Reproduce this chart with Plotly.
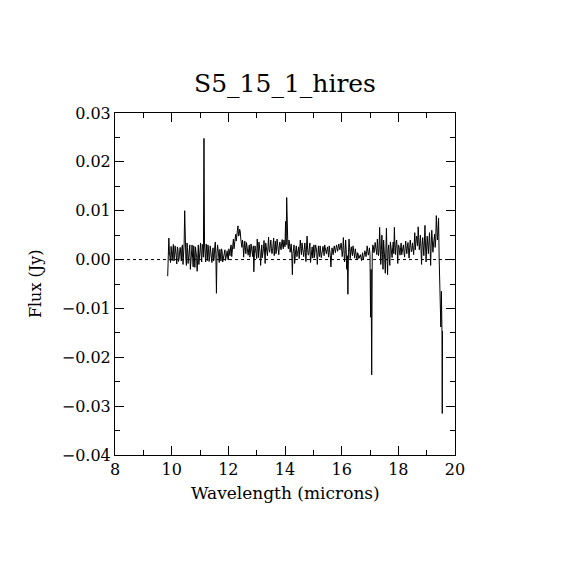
import plotly.graph_objects as go

# spectrum (wavelength in microns, flux in Jy)
wave = [
    9.86, 9.90, 9.94, 9.98, 10.02, 10.06, 10.10, 10.14, 10.18, 10.22,
    10.26, 10.30, 10.34, 10.38, 10.42, 10.46, 10.50, 10.54, 10.58, 10.62,
    10.66, 10.70, 10.74, 10.78, 10.82, 10.86, 10.90, 10.94, 10.98, 11.02,
    11.06, 11.10, 11.14, 11.18, 11.22, 11.26, 11.30, 11.34, 11.38, 11.42,
    11.46, 11.50, 11.54, 11.58, 11.62, 11.66, 11.70, 11.74, 11.78, 11.82,
    11.86, 11.90, 11.94, 11.98, 12.02, 12.06, 12.10, 12.14, 12.18, 12.22,
    12.26, 12.30, 12.34, 12.38, 12.42, 12.46, 12.50, 12.54, 12.58, 12.62,
    12.66, 12.70, 12.74, 12.78, 12.82, 12.86, 12.90, 12.94, 12.98, 13.02,
    13.06, 13.10, 13.14, 13.18, 13.22, 13.26, 13.30, 13.34, 13.38, 13.42,
    13.46, 13.50, 13.54, 13.58, 13.62, 13.66, 13.70, 13.74, 13.78, 13.82,
    13.86, 13.90, 13.94, 13.98, 14.02, 14.06, 14.10, 14.14, 14.18, 14.22,
    14.26, 14.30, 14.34, 14.38, 14.42, 14.46, 14.50, 14.54, 14.58, 14.62,
    14.66, 14.70, 14.74, 14.78, 14.82, 14.86, 14.90, 14.94, 14.98, 15.02,
    15.06, 15.10, 15.14, 15.18, 15.22, 15.26, 15.30, 15.34, 15.38, 15.42,
    15.46, 15.50, 15.54, 15.58, 15.62, 15.66, 15.70, 15.74, 15.78, 15.82,
    15.86, 15.90, 15.94, 15.98, 16.02, 16.06, 16.10, 16.14, 16.18, 16.22,
    16.26, 16.30, 16.34, 16.38, 16.42, 16.46, 16.50, 16.54, 16.58, 16.62,
    16.66, 16.70, 16.74, 16.78, 16.82, 16.86, 16.90, 16.94, 16.98, 17.02,
    17.06, 17.10, 17.14, 17.18, 17.22, 17.26, 17.30, 17.34, 17.38, 17.42,
    17.46, 17.50, 17.54, 17.58, 17.62, 17.66, 17.70, 17.74, 17.78, 17.82,
    17.86, 17.90, 17.94, 17.98, 18.02, 18.06, 18.10, 18.14, 18.18, 18.22,
    18.26, 18.30, 18.34, 18.38, 18.42, 18.46, 18.50, 18.54, 18.58, 18.62,
    18.66, 18.70, 18.74, 18.78, 18.82, 18.86, 18.90, 18.94, 18.98, 19.02,
    19.06, 19.10, 19.14, 19.18, 19.22, 19.26, 19.30, 19.34, 19.38, 19.42,
    19.44, 19.46, 19.48, 19.50, 19.52, 19.54, 19.55, 19.56,
]
flux = [
    -0.0034, 0.0044, 0.0003, 0.0027, -0.0002, 0.0031, 0.0004, 0.0020, -0.0009, 0.0022,
    0.0001, 0.0025, -0.0003, 0.0030, 0.0006, 0.0100, 0.0003, 0.0034, -0.0008, 0.0021,
    -0.0020, 0.0018, 0.0002, 0.0028, -0.0016, 0.0015, -0.0024, 0.0030, 0.0001, 0.0034,
    -0.0005, 0.0026, 0.0248, 0.0008, 0.0032, -0.0002, 0.0022, 0.0004, 0.0019, -0.0006,
    0.0024, 0.0002, 0.0036, -0.0069, 0.0030, 0.0005, 0.0021, -0.0003, 0.0018, 0.0001,
    0.0016, -0.0002, 0.0014, 0.0003, 0.0022, 0.0008, 0.0030, 0.0015, 0.0042, 0.0030,
    0.0052, 0.0045, 0.0069, 0.0050, 0.0058, 0.0034, 0.0040, 0.0005, 0.0038, 0.0012,
    0.0027, 0.0009, 0.0030, 0.0013, 0.0024, 0.0006, -0.0025, 0.0028, 0.0010, 0.0042,
    0.0004, 0.0027, -0.0012, 0.0030, 0.0012, 0.0039, -0.0008, 0.0025, 0.0008, 0.0046,
    0.0015, 0.0040, 0.0012, 0.0033, 0.0008, 0.0038, 0.0018, 0.0030, 0.0010, 0.0036,
    0.0020, 0.0041, 0.0022, 0.0035, 0.0078, 0.0127, 0.0030, 0.0040, 0.0015, 0.0032,
    -0.0031, 0.0025, -0.0008, 0.0020, 0.0006, 0.0018, 0.0002, 0.0040, 0.0010, 0.0024,
    0.0006, 0.0034, -0.0004, 0.0048, 0.0009, 0.0026, -0.0006, 0.0018, 0.0003, 0.0030,
    0.0012, 0.0024, -0.0010, 0.0028, 0.0006, 0.0020, 0.0011, 0.0027, 0.0008, 0.0022,
    0.0012, 0.0026, 0.0005, 0.0021, -0.0015, 0.0024, 0.0010, 0.0028, 0.0014, 0.0030,
    0.0017, 0.0032, 0.0020, 0.0034, 0.0006, 0.0045, -0.0005, 0.0040, -0.0020, -0.0071,
    0.0042, 0.0002, 0.0026, 0.0008, 0.0021, 0.0003, 0.0015, -0.0001, 0.0012, 0.0003,
    0.0010, -0.0002, 0.0014, 0.0004, 0.0018, 0.0006, 0.0028, 0.0009, 0.0024, -0.0118,
    -0.0236, 0.0030, 0.0014, 0.0035, 0.0019, 0.0042, 0.0008, 0.0066, -0.0010, 0.0050,
    -0.0020, 0.0025, -0.0028, 0.0064, -0.0031, 0.0030, -0.0012, 0.0022, 0.0004, 0.0036,
    0.0066, 0.0010, 0.0040, -0.0008, 0.0028, 0.0009, 0.0034, 0.0015, 0.0030, 0.0005,
    0.0038, 0.0012, 0.0035, 0.0003, 0.0040, 0.0016, 0.0034, 0.0010, 0.0055, 0.0030,
    0.0042, 0.0067, 0.0020, 0.0050, -0.0010, 0.0045, 0.0008, 0.0070, -0.0005, 0.0048,
    0.0012, 0.0055, -0.0012, 0.0060, 0.0015, 0.0045, 0.0025, 0.0090, 0.0040, 0.0085,
    0.0005, -0.0069, -0.0063, -0.0138, -0.0065, -0.0150, -0.0315, -0.0146,
]

# in-between samples, also
wave_mid = [
    9.88, 9.92, 9.96, 10.00, 10.04, 10.08, 10.12, 10.16, 10.20, 10.24,
    10.28, 10.32, 10.36, 10.40, 10.44, 10.48, 10.52, 10.56, 10.60, 10.64,
    10.68, 10.72, 10.76, 10.80, 10.84, 10.88, 10.92, 10.96, 11.00, 11.04,
    11.08, 11.12, 11.16, 11.20, 11.24, 11.28, 11.32, 11.36, 11.40, 11.44,
    11.48, 11.52, 11.56, 11.60, 11.64, 11.68, 11.72, 11.76, 11.80, 11.84,
    11.88, 11.92, 11.96, 12.00, 12.04, 12.08, 12.12, 12.16, 12.20, 12.24,
    12.28, 12.32, 12.36, 12.40, 12.44, 12.48, 12.52, 12.56, 12.60, 12.64,
    12.68, 12.72, 12.76, 12.80, 12.84, 12.88, 12.92, 12.96, 13.00, 13.04,
    13.08, 13.12, 13.16, 13.20, 13.24, 13.28, 13.32, 13.36, 13.40, 13.44,
    13.48, 13.52, 13.56, 13.60, 13.64, 13.68, 13.72, 13.76, 13.80, 13.84,
    13.88, 13.92, 13.96, 14.00, 14.04, 14.08, 14.12, 14.16, 14.20, 14.24,
    14.28, 14.32, 14.36, 14.40, 14.44, 14.48, 14.52, 14.56, 14.60, 14.64,
    14.68, 14.72, 14.76, 14.80, 14.84, 14.88, 14.92, 14.96, 15.00, 15.04,
    15.08, 15.12, 15.16, 15.20, 15.24, 15.28, 15.32, 15.36, 15.40, 15.44,
    15.48, 15.52, 15.56, 15.60, 15.64, 15.68, 15.72, 15.76, 15.80, 15.84,
    15.88, 15.92, 15.96, 16.00, 16.04, 16.08, 16.12, 16.16, 16.20, 16.24,
    16.28, 16.32, 16.36, 16.40, 16.44, 16.48, 16.52, 16.56, 16.60, 16.64,
    16.68, 16.72, 16.76, 16.80, 16.84, 16.88, 16.92, 16.96, 17.00, 17.04,
    17.08, 17.12, 17.16, 17.20, 17.24, 17.28, 17.32, 17.36, 17.40, 17.44,
    17.48, 17.52, 17.56, 17.60, 17.64, 17.68, 17.72, 17.76, 17.80, 17.84,
    17.88, 17.92, 17.96, 18.00, 18.04, 18.08, 18.12, 18.16, 18.20, 18.24,
    18.28, 18.32, 18.36, 18.40, 18.44, 18.48, 18.52, 18.56, 18.60, 18.64,
    18.68, 18.72, 18.76, 18.80, 18.84, 18.88, 18.92, 18.96, 19.00, 19.04,
    19.08, 19.12, 19.16, 19.20, 19.24, 19.28, 19.32, 19.36, 19.40,
]
flux_mid = [
    0.0012, 0.0016, -0.0006, 0.0012, 0.0019, -0.0003, 0.0028, 0.0008, 0.0026, -0.0004,
    0.0016, 0.0012, 0.0024, -0.0010, 0.0032, 0.0018, -0.0012, 0.0025, 0.0009, 0.0030,
    0.0008, 0.0030, -0.0015, 0.0012, 0.0026, 0.0004, 0.0012, -0.0010, 0.0022, 0.0010,
    0.0031, 0.0005, 0.0030, -0.0005, 0.0016, 0.0030, -0.0004, 0.0028, 0.0008, 0.0014,
    -0.0003, 0.0026, 0.0010, 0.0012, 0.0020, -0.0006, 0.0012, 0.0022, -0.0005, 0.0010,
    0.0020, 0.0008, 0.0018, -0.0001, 0.0016, 0.0026, 0.0006, 0.0035, 0.0022, 0.0045,
    0.0038, 0.0060, 0.0048, 0.0062, 0.0042, 0.0025, 0.0030, 0.0020, 0.0024, 0.0035,
    0.0018, 0.0022, 0.0005, 0.0032, 0.0016, 0.0028, 0.0012, 0.0022, 0.0002, 0.0020,
    0.0036, 0.0015, 0.0024, 0.0004, 0.0022, 0.0016, 0.0034, 0.0014, 0.0026, 0.0020,
    0.0028, 0.0022, 0.0018, 0.0044, 0.0025, 0.0012, 0.0042, 0.0022, 0.0028, 0.0026,
    0.0032, 0.0028, 0.0040, 0.0026, 0.0030, 0.0042, 0.0022, 0.0034, 0.0024, 0.0010,
    0.0012, 0.0030, 0.0014, 0.0028, 0.0012, 0.0026, 0.0018, 0.0022, 0.0034, 0.0016,
    0.0020, 0.0015, 0.0028, 0.0020, 0.0012, 0.0034, 0.0010, 0.0026, 0.0014, 0.0004,
    0.0030, 0.0014, 0.0022, 0.0012, 0.0028, 0.0004, 0.0018, 0.0020, 0.0030, 0.0016,
    0.0020, 0.0015, 0.0028, 0.0008, 0.0006, 0.0016, 0.0022, 0.0020, 0.0024, 0.0022,
    0.0026, 0.0024, 0.0028, 0.0022, 0.0018, 0.0020, 0.0010, 0.0020, 0.0008, 0.0015,
    0.0025, 0.0016, 0.0014, 0.0028, 0.0012, 0.0022, 0.0006, 0.0014, 0.0002, 0.0008,
    0.0004, 0.0008, 0.0000, 0.0010, 0.0012, 0.0016, 0.0018, 0.0014, 0.0010, -0.0020,
    0.0012, 0.0026, 0.0020, 0.0028, 0.0010, 0.0030, 0.0020, 0.0030, 0.0018, 0.0010,
    0.0040, 0.0000, 0.0030, 0.0010, 0.0020, 0.0002, 0.0036, 0.0016, 0.0024, 0.0012,
    0.0028, 0.0032, 0.0020, 0.0030, 0.0018, 0.0024, 0.0010, 0.0026, 0.0014, 0.0024,
    0.0022, 0.0026, 0.0018, 0.0024, 0.0028, 0.0020, 0.0024, 0.0030, 0.0020, 0.0048,
    0.0028, 0.0040, 0.0032, 0.0022, 0.0030, 0.0026, 0.0036, 0.0030, 0.0026, 0.0030,
    0.0036, 0.0026, 0.0030, 0.0040, 0.0030, 0.0052, 0.0040, 0.0060, 0.0056,
]

x_range = [8, 20]
y_range = [-0.04, 0.03]
title = "S5_15_1_hires"
x_title = "Wavelength (microns)"
y_title = "Flux (Jy)"

font = "DejaVu Serif"

# merge both sample sets in wavelength order
pairs = sorted(zip(wave + wave_mid, flux + flux_mid))
xs = [p[0] for p in pairs]
ys = [p[1] for p in pairs]

fig = go.Figure()
fig.add_trace(go.Scatter(x=xs, y=ys, mode="lines",
                         line=dict(color="black", width=1), showlegend=False))

# dotted zero line
fig.add_shape(type="line", x0=x_range[0], x1=x_range[1], y0=0, y1=0,
              xref="x", yref="y", layer="below",
              line=dict(color="black", width=1, dash="dot"))

axis_style = dict(showgrid=False, zeroline=False, showline=True, linecolor="black",
                  linewidth=1, mirror="ticks", ticks="inside", tickcolor="black",
                  tickwidth=1, ticklen=9, tickfont=dict(family=font, size=16, color="black"))

fig.update_xaxes(range=x_range, dtick=2, tick0=8,
                 minor=dict(dtick=1, ticks="inside", ticklen=5, tickcolor="black"),
                 **axis_style)
fig.update_yaxes(range=y_range, dtick=0.01, tick0=0, tickformat=".2f",
                 minor=dict(dtick=0.005, ticks="inside", ticklen=5, tickcolor="black"),
                 **axis_style)

fig.update_layout(
    width=570, height=570,
    margin=dict(l=107, r=122.5, t=105, b=123),
    paper_bgcolor="white", plot_bgcolor="white",
    title=dict(text=title, x=(107 + 170) / 570, xanchor="center",
               y=1 - 75 / 570, yanchor="middle",
               font=dict(family=font, size=25, color="black")),
    annotations=[
        dict(text=x_title, xref="paper", yref="paper", x=0.5, y=-0.11,
             xanchor="center", yanchor="middle", showarrow=False,
             font=dict(family=font, size=17, color="black")),
        dict(text=y_title, xref="paper", yref="paper", x=-0.235, y=0.5,
             xanchor="center", yanchor="middle", textangle=-90, showarrow=False,
             font=dict(family=font, size=16, color="black")),
    ],
)

fig.write_html("out.html")
